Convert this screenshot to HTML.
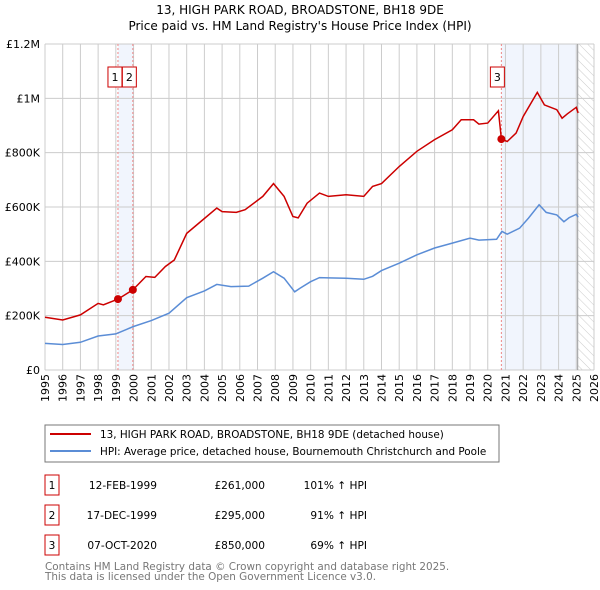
<!DOCTYPE html>
<html><head><meta charset="utf-8"><style>
body{margin:0;background:#fff;}
svg{display:block;font-family:"DejaVu Sans","Liberation Sans",sans-serif;}
</style></head><body>
<svg id="chart" width="600" height="590" viewBox="0 0 600 590">
<defs><pattern id="hatch" width="6" height="6" patternUnits="userSpaceOnUse" patternTransform="rotate(-45)"><line x1="0" y1="0" x2="0" y2="6" stroke="#ccc" stroke-width="1"/></pattern></defs>
<text x="300" y="14" text-anchor="middle" font-size="12">13, HIGH PARK ROAD, BROADSTONE, BH18 9DE</text>
<text x="300" y="30" text-anchor="middle" font-size="12">Price paid vs. HM Land Registry's House Price Index (HPI)</text>
<g id="grid"></g><g id="marks"></g><g id="axes"></g>
<g>
<rect x="45" y="425" width="454" height="37" fill="#fff" stroke="#777"/>
<line x1="50" y1="434" x2="91" y2="434" stroke="#cc0000" stroke-width="2"/>
<text x="100" y="438" font-size="10.4">13, HIGH PARK ROAD, BROADSTONE, BH18 9DE (detached house)</text>
<line x1="50" y1="451" x2="91" y2="451" stroke="#5b8dd6" stroke-width="2"/>
<text x="100" y="455" font-size="10.4">HPI: Average price, detached house, Bournemouth Christchurch and Poole</text>
</g>
<g id="table" font-size="10.6"></g>
<text x="45" y="570" font-size="10.4" fill="#777">Contains HM Land Registry data © Crown copyright and database right 2025.</text>
<text x="45" y="580" font-size="10.4" fill="#777">This data is licensed under the Open Government Licence v3.0.</text>
</svg>
<script>
const hpiYears=[1995,1996,1997,1998,1999,2000,2001,2002,2003,2004,2004.7,2005.5,2006.5,2007.3,2007.9,2008.5,2009.1,2009.4,2010,2010.5,2011,2012,2013,2013.5,2014,2015,2016,2017,2018,2019,2019.5,2020.5,2020.8,2021.1,2021.8,2022.3,2022.9,2023.3,2023.9,2024.3,2024.6,2025,2025.1];
const hpiValues=[98,94,102,125,133,160,182,209,266,291,315,307,309,338,362,338,288,301,325,340,339,338,334,345,366,393,424,449,467,485,478,481,510,500,522,559,608,580,571,546,561,573,562];
const propYears=[1995,1996,1997,1998,1998.3,1999.12,1999.96,2000.7,2001.2,2001.8,2002.3,2003,2003.9,2004.7,2005,2005.8,2006.3,2007.3,2007.9,2008.5,2009,2009.3,2009.8,2010.5,2011,2012,2013,2013.5,2014,2015,2016,2017,2018,2018.5,2019.2,2019.5,2020,2020.6,2020.77,2021.1,2021.6,2022,2022.8,2023.2,2023.9,2024.2,2024.5,2025,2025.1];
const propValues=[194,184,203,245,240,261,295,344,341,381,405,503,552,596,583,580,590,639,686,639,565,560,614,651,639,645,639,676,686,749,805,848,884,921,921,905,909,954,850,841,872,933,1022,976,958,927,943,967,946];
const yTicks=[0,200,400,600,800,1000,1200];
const yTickLabels=["£0","£200K","£400K","£600K","£800K","£1M","£1.2M"];
const xTicks=[1995,1996,1997,1998,1999,2000,2001,2002,2003,2004,2005,2006,2007,2008,2009,2010,2011,2012,2013,2014,2015,2016,2017,2018,2019,2020,2021,2022,2023,2024,2025,2026];
const saleLabels=["1","2","3"];
const saleYears=[1999.12,1999.96,2020.77];
const saleValues=[261,295,850];
const saleDates=["12-FEB-1999","17-DEC-1999","07-OCT-2020"];
const salePrices=["£261,000","£295,000","£850,000"];
const saleHpi=["101% ↑ HPI","91% ↑ HPI","69% ↑ HPI"];
const NS="http://www.w3.org/2000/svg";
const X0=45,X1=594,Y0=370,Y1=44;
const x=y=>X0+(y-1995)*(X1-X0)/31;
const yv=v=>Y0-v*(Y0-Y1)/1200;
function mk(tag,attrs,parent,text){const e=document.createElementNS(NS,tag);for(const k in attrs)e.setAttribute(k,attrs[k]);if(text!==undefined)e.textContent=text;parent.appendChild(e);return e;}
const grid=document.getElementById('grid'),marks=document.getElementById('marks'),axes=document.getElementById('axes'),table=document.getElementById('table');
let s=mk('rect',{x:x(saleYears[0]),y:Y1,width:x(saleYears[1])-x(saleYears[0]),height:Y0-Y1,fill:'#f1f5fd'},grid);

s=mk('rect',{x:x(saleYears[2]),y:Y1,width:x(2025.08)-x(saleYears[2]),height:Y0-Y1,fill:'#f1f5fd'},grid);

s=mk('rect',{x:x(2025.08),y:Y1,width:X1-x(2025.08),height:Y0-Y1,fill:'url(#hatch)'},grid);

xTicks.forEach(t=>{const l=mk('line',{x1:x(t),x2:x(t),y1:Y1,y2:Y0,stroke:'#ccc'},grid);

const tx=mk('text',{x:0,y:0,'text-anchor':'end','font-size':11,transform:'translate('+(x(t)+4)+',374) rotate(-90)'},axes,String(t));
});
yTicks.forEach((t,i)=>{const l=mk('line',{x1:X0,x2:X1,y1:yv(t),y2:yv(t),stroke:'#ccc'},grid);

const tx=mk('text',{x:40,y:yv(t)+4,'text-anchor':'end','font-size':11},axes,yTickLabels[i]);
});
let v=mk('line',{x1:x(2025.08),x2:x(2025.08),y1:Y1,y2:Y0,stroke:'#999'},grid);

saleYears.forEach((yr,i)=>{const l=mk('line',{x1:x(yr),x2:x(yr),y1:Y1,y2:Y0,stroke:'#ee8888','stroke-dasharray':'2,2'},grid);
});
const pts=(xs,vs)=>xs.map((t,i)=>x(t).toFixed(1)+','+yv(vs[i]).toFixed(1)).join(' ');
let p=mk('polyline',{points:pts(hpiYears,hpiValues),fill:'none',stroke:'#5b8dd6','stroke-width':1.5},marks);

p=mk('polyline',{points:pts(propYears,propValues),fill:'none',stroke:'#cc0000','stroke-width':1.5},marks);

const boxX=[x(saleYears[0])-3,x(saleYears[1])-3.5,x(saleYears[2])-4];
saleYears.forEach((yr,i)=>{const c=mk('circle',{cx:x(yr),cy:yv(saleValues[i]),r:4,fill:'#cc0000'},marks);

const r=mk('rect',{x:boxX[i]-7,y:67,width:14,height:20,fill:'#fff',stroke:'#cc0000'},marks);

const t=mk('text',{x:boxX[i],y:81,'text-anchor':'middle','font-size':11},marks,saleLabels[i]);

const ry=475+i*30;
const b=mk('rect',{x:45,y:ry,width:14,height:20,fill:'#fff',stroke:'#cc0000'},table);

const bt=mk('text',{x:52,y:ry+14,'text-anchor':'middle'},table,saleLabels[i]);

const d=mk('text',{x:157,y:ry+14,'text-anchor':'end'},table,saleDates[i]);

const pr=mk('text',{x:265,y:ry+14,'text-anchor':'end'},table,salePrices[i]);

const h=mk('text',{x:367,y:ry+14,'text-anchor':'end'},table,saleHpi[i]);
});
</script>
</body></html>
